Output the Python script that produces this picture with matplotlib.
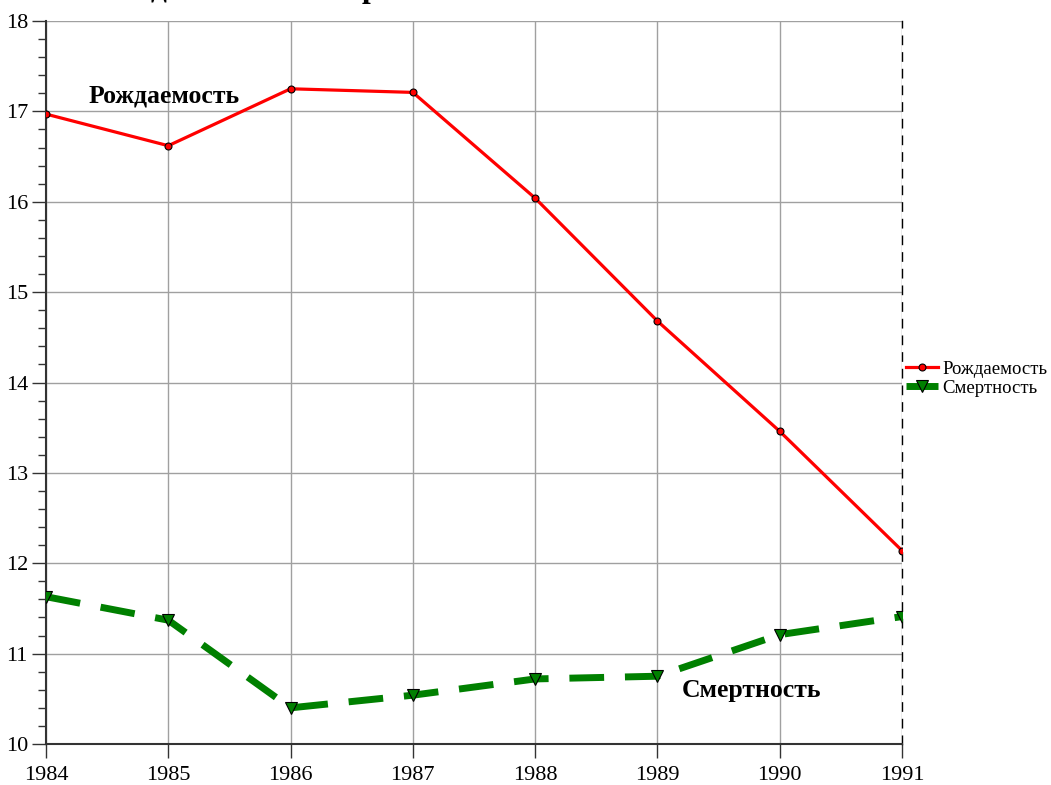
import matplotlib
matplotlib.use("Agg")
import matplotlib.pyplot as plt
from matplotlib.ticker import MultipleLocator

# data
years = [1984, 1985, 1986, 1987, 1988, 1989, 1990, 1991]
births = [16.97, 16.62, 17.25, 17.21, 16.04, 14.68, 13.46, 12.14]
deaths = [11.63, 11.37, 10.40, 10.54, 10.72, 10.75, 11.21, 11.41]
series_names = ["Рождаемость", "Смертность"]
title = "Рождаемость и смертность"

plt.rcParams['font.family'] = ['Liberation Serif', 'DejaVu Serif']

fig = plt.figure(figsize=(10.51, 7.85), dpi=100)
ax = fig.add_axes([46 / 1051, 1 - 744 / 785, (902 - 46) / 1051, (744 - 21) / 785])

ax.plot(years, births, color='red', lw=2.3, marker='o', ms=5,
        mfc='red', mec='black', mew=0.8, label=series_names[0], zorder=3)
ax.plot(years, deaths, color='green', lw=5, ls=(0, (5, 3)), marker='v', ms=9,
        mfc='green', mec='black', mew=0.8, label=series_names[1], zorder=3)

ax.set_xlim(1984, 1991)
ax.set_ylim(10, 18)
ax.xaxis.set_major_locator(MultipleLocator(1))
ax.yaxis.set_major_locator(MultipleLocator(1))
ax.yaxis.set_minor_locator(MultipleLocator(0.2))
ax.grid(True, which='major', color='#a0a0a0', lw=1)
ax.set_axisbelow(True)

ax.tick_params(axis='both', which='major', direction='out', length=10, width=1,
               color='#333333', labelsize=16)
ax.tick_params(axis='x', which='major', pad=6)
ax.tick_params(axis='y', which='major', pad=3)
ax.tick_params(axis='y', which='minor', direction='out', length=6, width=1, color='#333333')
ax.tick_params(axis='x', which='minor', length=0)

for s in ['left', 'bottom']:
    ax.spines[s].set_color('#333333')
    ax.spines[s].set_linewidth(1.5)
ax.spines['top'].set_visible(False)
ax.spines['right'].set_color('black')
ax.spines['right'].set_linewidth(1)
ax.spines['right'].set_linestyle((0, (6, 6)))

# in-plot labels
ax.text(1984.35, 17.1, series_names[0], fontsize=18.5, fontweight='bold', ha='left', va='baseline')
ax.text(1989.2, 10.52, series_names[1], fontsize=18.5, fontweight='bold', ha='left', va='baseline')

# title mostly cut off above the figure
fig.text(95 / 1051, 1 + 3 / 785, title, fontsize=22.5, fontweight='bold', ha='left', va='baseline')

ax.legend(loc='center left', bbox_to_anchor=(1.0, 0.505), frameon=False, fontsize=13.5,
          handlelength=1.7, handletextpad=0.25, labelspacing=0.1, borderaxespad=0.1,
          borderpad=0.1)

fig.savefig("out.png", dpi=100)
